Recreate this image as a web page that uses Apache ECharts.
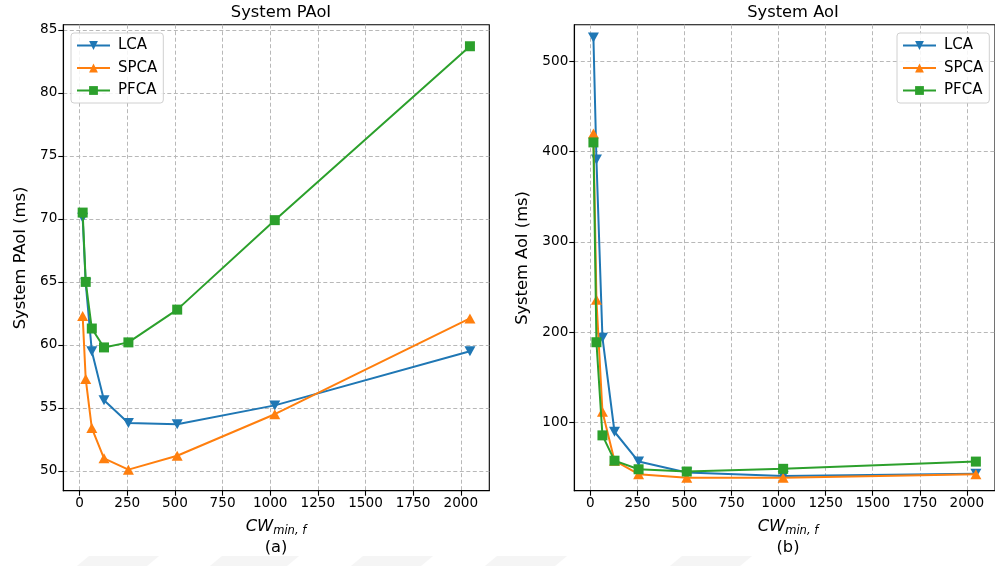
<!DOCTYPE html>
<html>
<head>
<meta charset="utf-8">
<script src="https://cdn.jsdelivr.net/npm/echarts@6/dist/echarts.min.js"></script>
<style>
  html, body { margin: 0; padding: 0; background: #fff; }
  #chart { width: 995px; height: 566px; }
</style>
</head>
<body>
<div id="chart"></div>
<script>
// Contention window sizes on the x axis
const cwValues = [16, 32, 64, 128, 256, 512, 1024, 2048];

// (a) System PAoI (ms)
const paoiLCA  = [70.1, 64.9, 59.5, 55.6, 53.8, 53.7, 55.2, 59.5];
const paoiSPCA = [62.3, 57.3, 53.4, 51.0, 50.1, 51.2, 54.5, 62.1];
const paoiPFCA = [70.5, 65.0, 61.3, 59.8, 60.2, 62.8, 69.9, 83.7];

// (b) System AoI (ms)
const aoiLCA  = [526, 391, 194, 90, 57, 45, 41, 43.5];
const aoiSPCA = [420, 236, 112, 58, 43, 39, 39, 43];
const aoiPFCA = [410, 189, 86, 58, 48.5, 46, 49, 57];

// Tick labels
const xTicks = [0, 250, 500, 750, 1000, 1250, 1500, 1750, 2000];
const yTicksA = [50, 55, 60, 65, 70, 75, 80, 85];
const yTicksB = [100, 200, 300, 400, 500];

const seriesNames = ['LCA', 'SPCA', 'PFCA'];
const colors = ['#1f77b4', '#ff7f0e', '#2ca02c'];
const FONT = 'DejaVu Sans';

function pairs(ys) { return cwValues.map((x, i) => [x, ys[i]]); }

const markerStyles = [
  { symbol: 'triangle', symbolRotate: 180, symbolSize: [11, 10] },
  { symbol: 'triangle', symbolRotate: 0, symbolSize: [11, 10] },
  { symbol: 'rect', symbolRotate: 0, symbolSize: 10 }
];

function makeSeries(idx, data, gridIndex) {
  const m = markerStyles[idx];
  return {
    name: seriesNames[idx],
    type: 'line',
    xAxisIndex: gridIndex,
    yAxisIndex: gridIndex,
    data: pairs(data),
    symbol: m.symbol,
    symbolRotate: m.symbolRotate,
    symbolSize: m.symbolSize,
    showAllSymbol: true,
    animation: false,
    lineStyle: { color: colors[idx], width: 2 },
    itemStyle: { color: colors[idx] },
    emphasis: { disabled: true },
    z: 3 + idx
  };
}

const gridLine = { show: true, lineStyle: { color: '#b8b8b8', width: 1, type: [4, 2.5] } };
const axisLabelBase = {
  color: '#000', fontFamily: FONT, fontSize: 13.6, margin: 6,
  formatter: (v) => String(v)
};

function xAxisDef(gridIndex) {
  return {
    type: 'value', gridIndex,
    min: -85.6, max: 2149.6,
    axisLine: { show: true, onZero: false, lineStyle: { color: '#000', width: 1.1 } },
    axisTick: { show: true, length: 5, customValues: xTicks, lineStyle: { color: '#000', width: 1.1 } },
    axisLabel: Object.assign({ customValues: xTicks }, axisLabelBase),
    splitLine: gridLine
  };
}

function yAxisDef(gridIndex, min, max, ticks) {
  return {
    type: 'value', gridIndex,
    min, max,
    axisLine: { show: true, onZero: false, lineStyle: { color: '#000', width: 1.1 } },
    axisTick: { show: true, length: 5, customValues: ticks, lineStyle: { color: '#000', width: 1.1 } },
    axisLabel: Object.assign({ customValues: ticks }, axisLabelBase),
    splitLine: gridLine
  };
}

function legendDef(left, top) {
  return {
    data: seriesNames,
    left, top,
    orient: 'vertical',
    itemWidth: 33, itemHeight: 11,
    itemGap: 7.5,
    padding: [5, 6, 5, 5],
    backgroundColor: 'rgba(255,255,255,0.85)',
    borderColor: '#d0d0d0', borderWidth: 1, borderRadius: 3,
    textStyle: { color: '#000', fontFamily: FONT, fontSize: 15, padding: [0, 0, 0, 3] },
    selectedMode: false
  };
}

const xLabelRich = {
  cw: { fontFamily: FONT, fontStyle: 'italic', fontSize: 16.3, color: '#000' },
  sub: { fontFamily: FONT, fontStyle: 'italic', fontSize: 11.5, color: '#000', padding: [9, 0, 0, 0] }
};

// faint band of shapes along the bottom edge
const bottomShapes = [[77, 147], [210, 287], [351, 421], [485, 555], [670, 740]].map(([a, b]) => ({
  type: 'polygon', silent: true, z: 0,
  shape: { points: [[a, 566], [a + 12, 556], [b + 12, 556], [b, 566]] },
  style: { fill: '#f5f5f5' }
}));

const textStyleBase = { fontFamily: FONT, fontSize: 16.3, fill: '#000', align: 'center', verticalAlign: 'middle' };

const option = {
  backgroundColor: '#fff',
  animation: false,
  title: [
    { text: 'System PAoI', left: 276, top: 0, textAlign: 'center',
      textStyle: { fontFamily: FONT, fontSize: 16.3, fontWeight: 'normal', color: '#000' } },
    { text: 'System AoI', left: 788, top: 0, textAlign: 'center',
      textStyle: { fontFamily: FONT, fontSize: 16.3, fontWeight: 'normal', color: '#000' } }
  ],
  grid: [
    { left: 63.3, top: 24.7, width: 426, height: 466, show: true, borderColor: '#000', borderWidth: 1.1, backgroundColor: 'transparent' },
    { left: 574.3, top: 24.7, width: 426.6, height: 466, show: true, borderColor: '#000', borderWidth: 1.1, backgroundColor: 'transparent' }
  ],
  xAxis: [xAxisDef(0), xAxisDef(1)],
  yAxis: [
    yAxisDef(0, 48.43, 85.41, yTicksA),
    yAxisDef(1, 24.8, 540.2, yTicksB)
  ],
  legend: [legendDef(71, 33), legendDef(897, 33)],
  series: [
    makeSeries(0, paoiLCA, 0), makeSeries(1, paoiSPCA, 0), makeSeries(2, paoiPFCA, 0),
    makeSeries(0, aoiLCA, 1), makeSeries(1, aoiSPCA, 1), makeSeries(2, aoiPFCA, 1)
  ],
  graphic: bottomShapes.concat([
    { type: 'text', x: 276, y: 527, silent: true,
      style: { text: '{cw|CW}{sub|min, f}', rich: xLabelRich, align: 'center', verticalAlign: 'middle' } },
    { type: 'text', x: 276, y: 548, silent: true,
      style: Object.assign({ text: '(a)' }, textStyleBase) },
    { type: 'text', x: 788, y: 527, silent: true,
      style: { text: '{cw|CW}{sub|min, f}', rich: xLabelRich, align: 'center', verticalAlign: 'middle' } },
    { type: 'text', x: 788, y: 548, silent: true,
      style: Object.assign({ text: '(b)' }, textStyleBase) },
    { type: 'text', x: 21, y: 258, rotation: Math.PI / 2, silent: true,
      style: Object.assign({ text: 'System PAoI (ms)' }, textStyleBase) },
    { type: 'text', x: 523, y: 258, rotation: Math.PI / 2, silent: true,
      style: Object.assign({ text: 'System AoI (ms)' }, textStyleBase) }
  ])
};

const chart = echarts.init(document.getElementById('chart'), null, { renderer: 'canvas' });
chart.setOption(option);
</script>
</body>
</html>
